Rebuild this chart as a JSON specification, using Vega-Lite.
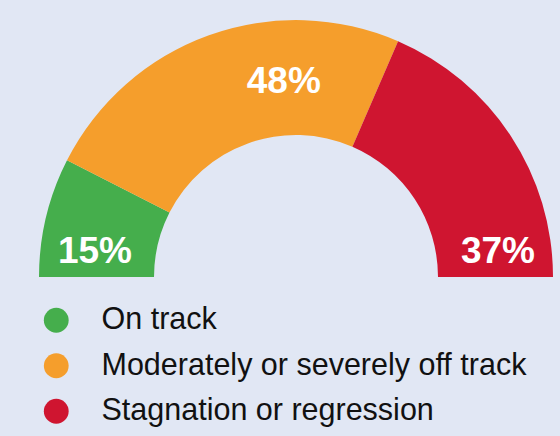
{
  "$schema": "https://vega.github.io/schema/vega-lite/v6.json",
  "autosize": "none",
  "width": 528,
  "height": 318,
  "padding": {"left": 32, "top": 118, "right": 0, "bottom": 0},
  "background": "#e1e7f4",
  "config": {"view": {"stroke": null}, "font": "Liberation Sans"},
  "data": {
    "values": [
      {"status": "On track", "value": 15, "label": "15%", "order": 1},
      {"status": "Moderately or severely off track", "value": 48, "label": "48%", "order": 2},
      {"status": "Stagnation or regression", "value": 37, "label": "37%", "order": 3}
    ]
  },
  "transform": [
    {"stack": "value", "groupby": [], "sort": [{"field": "order"}], "as": ["v0", "v1"]}
  ],
  "layer": [
    {
      "mark": {"type": "arc", "radius": 257, "radius2": 142},
      "encoding": {
        "theta": {"field": "v0", "type": "quantitative", "scale": {"domain": [0, 100], "range": [-1.5708, 1.5708]}},
        "theta2": {"field": "v1"},
        "color": {
          "field": "status",
          "type": "nominal",
          "sort": ["On track", "Moderately or severely off track", "Stagnation or regression"],
          "scale": {
            "domain": ["On track", "Moderately or severely off track", "Stagnation or regression"],
            "range": ["#45ae4c", "#f59e2c", "#cf1530"]
          },
          "legend": {
            "title": null,
            "orient": "none",
            "legendX": 9,
            "legendY": 187,
            "padding": 0,
            "symbolType": "circle",
            "symbolSize": 615,
            "symbolStrokeWidth": 0,
            "symbolOpacity": 1,
            "labelFont": "Liberation Sans",
            "labelFontSize": 30.5,
            "labelColor": "#111111",
            "labelOffset": 30,
            "labelLimit": 500,
            "rowPadding": 14.5
          }
        }
      }
    },
    {
      "transform": [{"filter": "datum.order == 1"}],
      "mark": {"type": "text", "radius": 200, "fontSize": 37, "fontWeight": "bold", "color": "white", "align": "center", "baseline": "alphabetic", "dy": -14, "dx": -1},
      "encoding": {
        "theta": {"field": "v0", "type": "quantitative"},
        "text": {"field": "label"}
      }
    },
    {
      "transform": [{"filter": "datum.order == 2"}],
      "mark": {"type": "text", "radius": 195, "fontSize": 37, "fontWeight": "bold", "color": "white", "align": "center", "baseline": "middle"},
      "encoding": {
        "theta": {"field": "value", "type": "quantitative"},
        "text": {"field": "label"}
      }
    },
    {
      "transform": [{"filter": "datum.order == 3"}],
      "mark": {"type": "text", "radius": 200, "fontSize": 37, "fontWeight": "bold", "color": "white", "align": "center", "baseline": "alphabetic", "dy": -14, "dx": 2},
      "encoding": {
        "theta": {"field": "v1", "type": "quantitative"},
        "text": {"field": "label"}
      }
    }
  ]
}
